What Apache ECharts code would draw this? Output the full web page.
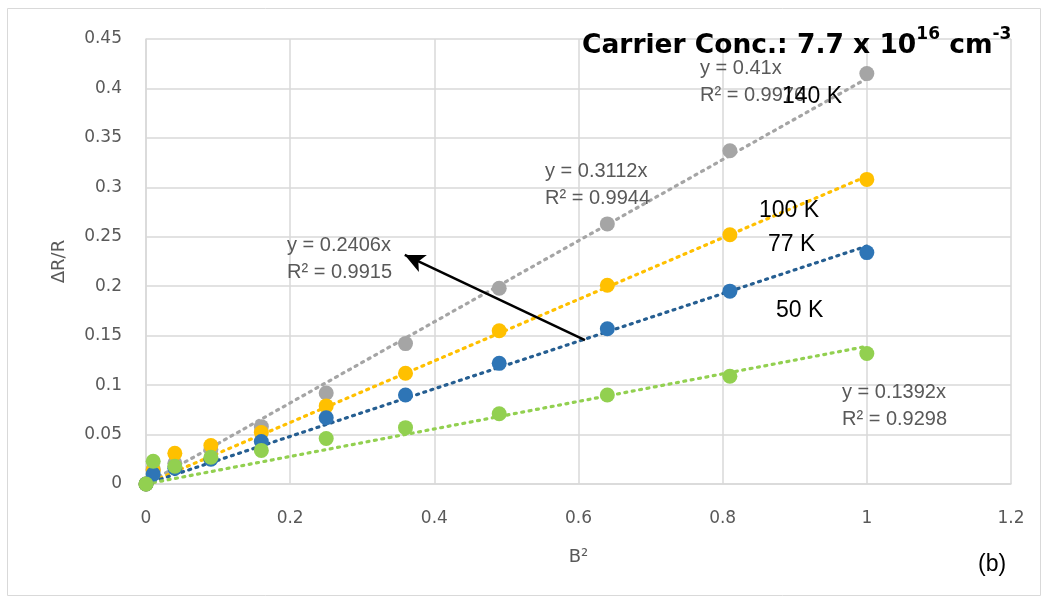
<!DOCTYPE html>
<html><head><meta charset="utf-8">
<script src="https://cdn.jsdelivr.net/npm/echarts@6/dist/echarts.min.js"></script>
<style>html,body{margin:0;padding:0;background:#fff}#c{width:1050px;height:600px}</style>
</head><body><div id="c"></div>
<script>
var bSquared = [0, 0.01, 0.04, 0.09, 0.16, 0.25, 0.36, 0.49, 0.64, 0.81, 1];
var k140 = [0, 0.015, 0.021, 0.035, 0.058, 0.092, 0.142, 0.198, 0.263, 0.337, 0.415];
var k100 = [0, 0.014, 0.031, 0.039, 0.052, 0.079, 0.112, 0.155, 0.201, 0.252, 0.308];
var k77  = [0, 0.010, 0.016, 0.025, 0.043, 0.067, 0.090, 0.122, 0.157, 0.195, 0.234];
var k50  = [0, 0.023, 0.018, 0.027, 0.034, 0.046, 0.057, 0.071, 0.090, 0.109, 0.132];
var slopes = {k140: 0.41, k100: 0.3112, k77: 0.2406, k50: 0.1392};
var r2 = {k140: 0.9976, k100: 0.9944, k77: 0.9915, k50: 0.9298};

function pts(arr){ return bSquared.map(function(x,i){ return [x, arr[i]]; }); }
function trend(s){ return [[0,0],[1,s]]; }

var font = 'DejaVu Sans';
var eqFont = 'Liberation Sans';
var chart = echarts.init(document.getElementById('c'));

function scat(name, data, color){
  return {name:name, type:'scatter', data:pts(data), symbolSize:15, itemStyle:{color:color, opacity:1}, z:3};
}
function line(data, color){
  return {type:'line', data:data, showSymbol:false, symbol:'none', lineStyle:{color:color, width:3.2, type:[2,5.5], cap:'round'}, z:2, silent:true};
}
function eqText(x, y, s, r){
  return {type:'text', left:x, top:y, z:10, style:{text:'y = ' + s + 'x\nR² = ' + r, font:'20px ' + eqFont, fill:'#595959', lineHeight:27, align:'left'}};
}
function kText(x, y, t){
  return {type:'text', left:x, top:y, z:11, style:{text:t, font:'23px ' + eqFont, fill:'#000'}};
}

chart.setOption({
  animation:false,
  grid:{left:146, right:39, top:39, bottom:116},
  xAxis:{type:'value', min:0, max:1.2, interval:0.2,
    axisLine:{show:true, lineStyle:{color:'#D9D9D9', width:1.5}}, axisTick:{show:false},
    splitLine:{show:true, lineStyle:{color:'#D9D9D9', width:1.5}},
    axisLabel:{color:'#595959', fontFamily:font, fontSize:17, margin:26, formatter:function(v){return String(+v.toFixed(2));}},
    name:'B²', nameLocation:'middle', nameGap:64, nameTextStyle:{color:'#595959', fontFamily:font, fontSize:18}},
  yAxis:{type:'value', min:0, max:0.45, interval:0.05,
    axisLine:{show:true, lineStyle:{color:'#D9D9D9', width:1.5}}, axisTick:{show:false},
    splitLine:{show:true, lineStyle:{color:'#D9D9D9', width:1.5}},
    axisLabel:{color:'#595959', fontFamily:font, fontSize:17, margin:24, formatter:function(v){return String(+v.toFixed(2));}},
    name:'ΔR/R', nameLocation:'middle', nameGap:78, nameTextStyle:{color:'#595959', fontFamily:font, fontSize:18}},
  series:[
    line(trend(slopes.k140), '#A5A5A5'),
    line(trend(slopes.k100), '#FFC000'),
    line(trend(slopes.k77), '#255E91'),
    line(trend(slopes.k50), '#92D050'),
    scat('140 K', k140, '#A5A5A5'),
    scat('100 K', k100, '#FFC000'),
    scat('77 K', k77, '#2E75B6'),
    scat('50 K', k50, '#92D050'),
    {type:'line', data:[], markLine:{silent:true, symbol:['none','arrow'], symbolSize:[14,20],
      lineStyle:{color:'#000', width:2.5, type:'solid'}, label:{show:false},
      data:[[{coord:[0.609,0.1456]},{coord:[0.359,0.2316]}]]}}
  ],
  graphic:[
    {type:'rect', shape:{x:7.5, y:8.5, width:1033, height:587}, style:{fill:'none', stroke:'#D9D9D9', lineWidth:1}, silent:true, z:-1},
    {type:'text', left:582, top:26, z:12, style:{
      text:'{b|Carrier Conc.: 7.7 x 10}{s|16}{b| cm}{s|-3}',
      rich:{b:{fontFamily:font, fontWeight:'bold', fontSize:26.5, fill:'#000', lineHeight:34, verticalAlign:'bottom'},
            s:{fontFamily:font, fontWeight:'bold', fontSize:17, fill:'#000', lineHeight:19, verticalAlign:'top'}}}},
    eqText(700, 55, slopes.k140, r2.k140),
    eqText(545, 158, slopes.k100, r2.k100),
    eqText(287, 232, slopes.k77, r2.k77),
    eqText(842, 379, slopes.k50, r2.k50),
    kText(782, 85, '140 K'),
    kText(759, 199, '100 K'),
    kText(768, 233, '77 K'),
    kText(776, 299, '50 K'),
    {type:'text', left:978, top:553, style:{text:'(b)', font:'23px ' + eqFont, fill:'#000'}}
  ]
});
</script></body></html>
